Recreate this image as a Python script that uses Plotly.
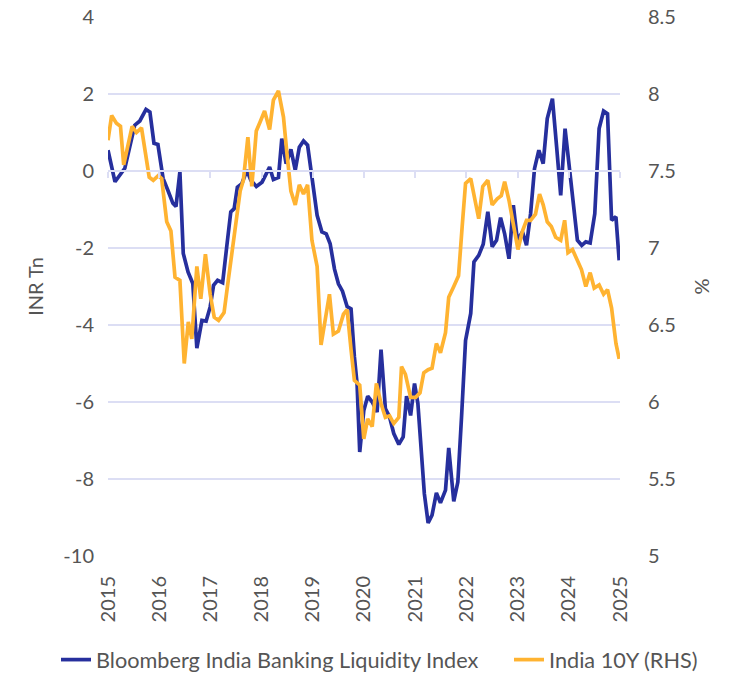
import plotly.graph_objects as go

# Bloomberg India Banking Liquidity Index (INR Tn, left axis)
liq_dates = [
    "2015-01-01", "2015-02-20", "2015-05-01", "2015-07-11", "2015-08-16", "2015-09-29", "2015-10-27",
    "2015-11-25", "2015-12-23", "2016-01-29", "2016-03-03", "2016-04-08", "2016-04-30", "2016-05-28",
    "2016-06-21", "2016-07-25", "2016-08-28", "2016-09-26", "2016-11-01", "2016-12-01", "2016-12-30",
    "2017-01-23", "2017-02-21", "2017-03-29", "2017-04-27", "2017-05-26", "2017-06-19", "2017-07-12",
    "2017-08-13", "2017-09-18", "2017-10-16", "2017-11-24", "2018-01-04", "2018-02-27", "2018-03-26",
    "2018-05-01", "2018-05-25", "2018-06-25", "2018-07-29", "2018-08-29", "2018-09-27", "2018-10-27",
    "2018-11-25", "2019-01-07", "2019-02-01", "2019-03-07", "2019-04-07", "2019-05-05", "2019-06-05",
    "2019-07-03", "2019-08-01", "2019-09-03", "2019-10-01", "2019-10-25", "2019-11-13", "2019-12-02",
    "2019-12-31", "2020-01-28", "2020-02-29", "2020-04-04", "2020-05-02", "2020-06-02", "2020-07-02",
    "2020-08-01", "2020-09-06", "2020-10-07", "2020-10-31", "2020-11-29", "2020-12-27", "2021-01-20",
    "2021-02-13", "2021-03-07", "2021-04-03", "2021-05-01", "2021-06-01", "2021-06-30", "2021-08-05",
    "2021-08-28", "2021-10-03", "2021-11-01", "2021-11-28", "2021-12-26", "2022-02-01", "2022-02-24",
    "2022-03-30", "2022-05-01", "2022-06-03", "2022-07-04", "2022-08-04", "2022-09-02", "2022-10-01",
    "2022-11-01", "2022-12-02", "2022-12-31", "2023-02-05", "2023-03-06", "2023-04-04", "2023-05-02",
    "2023-06-02", "2023-07-03", "2023-08-01", "2023-09-07", "2023-10-07", "2023-11-05", "2023-12-06",
    "2024-01-04", "2024-02-04", "2024-03-03", "2024-04-03", "2024-05-02", "2024-06-02", "2024-07-05",
    "2024-08-05", "2024-09-06", "2024-10-04", "2024-11-02", "2024-12-03", "2024-12-26",
]
liq_values = [
    0.54, -0.28, 0.07, 1.19, 1.30, 1.60, 1.53,
    0.72, 0.69, -0.19, -0.50, -0.84, -0.92, -0.02,
    -2.14, -2.62, -2.92, -4.60, -3.88, -3.90, -3.53,
    -2.97, -2.84, -2.90, -1.97, -1.06, -0.98, -0.42,
    -0.33, 0.02, -0.24, -0.40, -0.29, 0.10, -0.22,
    -0.17, 0.84, 0.19, 0.56, 0.02, 0.62, 0.78,
    0.67, -0.50, -1.15, -1.58, -1.63, -1.89, -2.55,
    -2.93, -3.12, -3.52, -3.58, -4.83, -5.52, -7.30,
    -6.22, -5.85, -6.00, -6.26, -4.64, -6.17, -6.39,
    -6.82, -7.10, -6.91, -5.85, -6.35, -5.52, -6.04,
    -7.25, -8.38, -9.14, -8.94, -8.36, -8.62, -8.29,
    -7.19, -8.58, -8.08, -6.35, -4.40, -3.70, -2.36,
    -2.19, -1.90, -1.06, -1.97, -1.80, -1.21, -1.63,
    -2.28, -0.89, -1.80, -1.58, -1.93, -1.11, 0.06,
    0.54, 0.19, 1.36, 1.88, 0.62, -0.63, 1.10,
    0.10, -0.76, -1.80, -1.93, -1.84, -1.87, -1.11,
    1.10, 1.56, 1.49, -1.28, -1.19, -2.32,
]

# India 10Y government bond yield (%, right axis)
yld_dates = [
    "2015-01-01", "2015-01-27", "2015-03-02", "2015-03-31", "2015-04-23", "2015-05-24", "2015-06-22",
    "2015-07-23", "2015-08-28", "2015-10-22", "2015-11-20", "2015-12-26", "2016-01-19", "2016-02-24",
    "2016-03-25", "2016-04-23", "2016-05-28", "2016-06-28", "2016-07-27", "2016-08-21", "2016-09-26",
    "2016-10-24", "2016-11-26", "2016-12-30", "2017-01-28", "2017-02-28", "2017-04-08", "2017-05-08",
    "2017-06-13", "2017-07-08", "2017-08-01", "2017-08-24", "2017-09-25", "2017-10-23", "2017-11-24",
    "2017-12-22", "2018-01-22", "2018-02-27", "2018-03-26", "2018-05-01", "2018-06-06", "2018-06-30",
    "2018-07-29", "2018-08-29", "2018-09-27", "2018-10-27", "2018-11-25", "2018-12-26", "2019-02-01",
    "2019-03-01", "2019-03-30", "2019-04-30", "2019-05-28", "2019-07-03", "2019-08-08", "2019-09-03",
    "2019-10-01", "2019-10-25", "2019-12-02", "2019-12-31", "2020-01-28", "2020-02-29", "2020-03-30",
    "2020-05-02", "2020-06-02", "2020-07-02", "2020-08-01", "2020-09-06", "2020-09-25", "2020-10-23",
    "2020-11-29", "2021-01-04", "2021-02-04", "2021-03-03", "2021-04-03", "2021-05-01", "2021-06-01",
    "2021-06-30", "2021-08-05", "2021-08-28", "2021-10-03", "2021-11-06", "2021-12-02", "2021-12-26",
    "2022-02-01", "2022-03-02", "2022-03-30", "2022-04-28", "2022-06-03", "2022-07-04", "2022-08-09",
    "2022-09-07", "2022-10-01", "2022-11-01", "2022-12-02", "2023-01-04", "2023-02-05", "2023-03-06",
    "2023-04-04", "2023-05-09", "2023-06-07", "2023-07-03", "2023-08-01", "2023-08-30", "2023-09-30",
    "2023-11-05", "2023-12-03", "2023-12-27", "2024-01-28", "2024-02-28", "2024-04-01", "2024-05-02",
    "2024-06-02", "2024-07-01", "2024-08-05", "2024-09-06", "2024-10-04", "2024-11-02", "2024-12-03",
    "2024-12-26",
]
yld_values = [
    7.70, 7.86, 7.81, 7.79, 7.54, 7.66, 7.79,
    7.75, 7.78, 7.46, 7.44, 7.47, 7.45, 7.17,
    7.11, 6.81, 6.79, 6.25, 6.52, 6.41, 6.88,
    6.67, 6.96, 6.70, 6.55, 6.53, 6.58, 6.79,
    7.03, 7.22, 7.37, 7.44, 7.72, 7.40, 7.76,
    7.82, 7.89, 7.77, 7.96, 8.02, 7.85, 7.62,
    7.37, 7.28, 7.41, 7.35, 7.41, 7.05, 6.88,
    6.37, 6.54, 6.70, 6.44, 6.46, 6.57, 6.60,
    6.34, 6.14, 6.11, 5.76, 5.89, 5.84, 6.12,
    5.99, 5.90, 5.91, 5.86, 5.90, 6.23, 6.18,
    6.03, 6.03, 6.06, 6.19, 6.21, 6.22, 6.38,
    6.32, 6.45, 6.68, 6.75, 6.82, 7.14, 7.42,
    7.45, 7.31, 7.19, 7.40, 7.44, 7.28, 7.32,
    7.34, 7.43, 7.31, 7.15, 6.99, 7.11, 7.18,
    7.18, 7.22, 7.35, 7.28, 7.17, 7.14, 7.07,
    7.05, 7.18, 6.97, 6.99, 6.92, 6.86, 6.75,
    6.84, 6.74, 6.76, 6.70, 6.73, 6.61, 6.38,
    6.28,
]

left_tickvals = [4, 2, 0, -2, -4, -6, -8, -10]
left_ticktext = ["4", "2", "0", "-2", "-4", "-6", "-8", "-10"]
right_tickvals = [8.5, 8, 7.5, 7, 6.5, 6, 5.5, 5]
right_ticktext = ["8.5", "8", "7.5", "7", "6.5", "6", "5.5", "5"]
x_range = ["2015-01-01", "2025-01-01"]

BLUE = "#262F9D"
ORANGE = "#FFB331"
GRID = "#DCDEF4"
TXT = "#555555"
FONT = "Lato, sans-serif"
FS = 20
LEG_FS = 21.7
LEG_Y = 1 - 660 / 674

fig = go.Figure()
fig.add_trace(go.Scatter(
    x=liq_dates, y=liq_values, mode="lines", name="Bloomberg India Banking Liquidity Index",
    line=dict(color=BLUE, width=3.7), xaxis="x", yaxis="y", legend="legend",
))
fig.add_trace(go.Scatter(
    x=yld_dates, y=yld_values, mode="lines", name="India 10Y (RHS)",
    line=dict(color=ORANGE, width=3.7), xaxis="x2", yaxis="y2", legend="legend2",
))

fig.update_layout(
    width=730, height=674,
    margin=dict(l=108, r=110, t=17, b=118, autoexpand=False),
    paper_bgcolor="white", plot_bgcolor="white",
    font=dict(family=FONT, size=FS, color=TXT),
    showlegend=True,
    legend=dict(orientation="h", xref="container", yref="container",
                x=56 / 730, xanchor="left", y=LEG_Y, yanchor="middle",
                font=dict(size=LEG_FS, color=TXT), itemwidth=30),
    legend2=dict(orientation="h", xref="container", yref="container",
                 x=509 / 730, xanchor="left", y=LEG_Y, yanchor="middle",
                 font=dict(size=LEG_FS, color=TXT), itemwidth=30),
    xaxis=dict(
        type="date", range=x_range, dtick="M12", tick0="2015-01-01", tickformat="%Y",
        tickangle=-90, showgrid=False, zeroline=False, showline=False, ticks="",
        ticklabelstandoff=15, tickfont=dict(size=FS, color=TXT), automargin=False,
    ),
    xaxis2=dict(
        type="date", range=x_range, dtick="M12", tick0="2015-01-01", overlaying="x",
        anchor="free", position=10 / 14, showticklabels=False, showgrid=False, zeroline=False,
        showline=True, linecolor=GRID, linewidth=2, ticks="outside", ticklen=6,
        tickcolor=GRID, tickwidth=2, automargin=False,
    ),
    yaxis=dict(
        range=[-10, 4], tickvals=left_tickvals, ticktext=left_ticktext,
        showgrid=True, gridcolor=GRID, gridwidth=2, zeroline=False, showline=False,
        ticks="", ticklabelstandoff=13, automargin=False,
        title=dict(text="INR Tn", font=dict(size=FS, color=TXT), standoff=14),
        tickfont=dict(size=FS, color=TXT),
    ),
    yaxis2=dict(
        range=[5, 8.5], tickvals=right_tickvals, ticktext=right_ticktext,
        overlaying="y", side="right", anchor="x2", automargin=False,
        showgrid=False, zeroline=False, showline=False, ticks="", ticklabelstandoff=27,
        title=dict(text="%", font=dict(size=FS, color=TXT), standoff=20),
        tickfont=dict(size=FS, color=TXT),
    ),
)

fig.write_html("out.html", config={"displayModeBar": False},
               post_script="document.body.style.margin='0';")
